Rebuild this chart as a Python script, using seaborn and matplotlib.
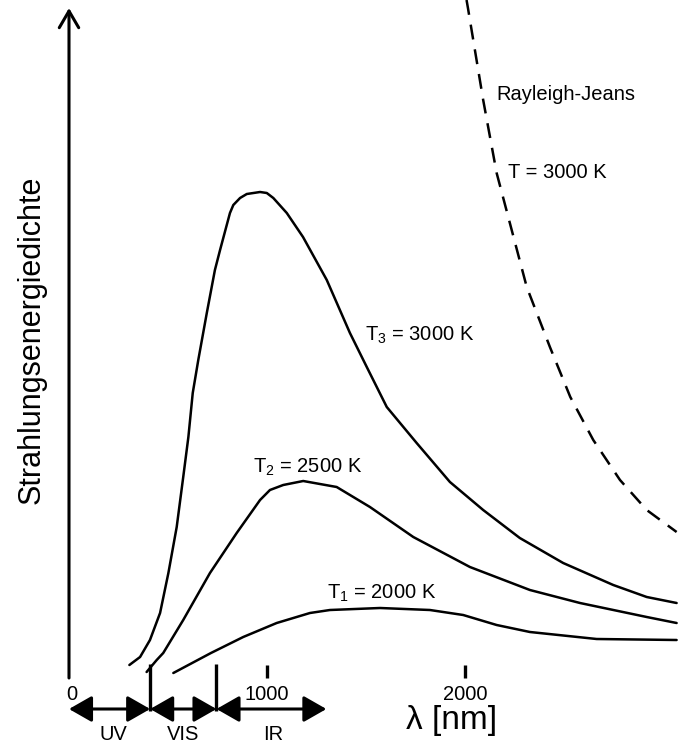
import matplotlib
matplotlib.use("Agg")
import matplotlib.pyplot as plt
import seaborn as sns
import pandas as pd

# Werte (x: Wellenlaenge in nm, y: willkuerliche Einheiten)
lam_t3 = [305, 359, 409, 460, 502, 544, 577, 603, 625, 653, 696, 737, 763, 813, 830,
          864, 898, 965, 999, 1032, 1100, 1182, 1302, 1419, 1504, 1605, 1756, 1924,
          2092, 2277, 2496, 2749, 2918, 3069]
rad_t3 = [13, 21, 38, 65, 105, 151, 201, 241, 285, 318, 365, 408, 428, 465, 473,
          480, 484, 486, 485, 480, 465, 441, 398, 345, 311, 271, 235, 196,
          168, 140, 115, 93, 81, 75]

lam_t2 = [392, 443, 476, 577, 712, 847, 965, 1015, 1082, 1183, 1352, 1520, 1739,
          2025, 2328, 2581, 2918, 3069]
rad_t2 = [6, 18, 25, 58, 105, 145, 178, 188, 193, 197, 191, 171, 141,
          111, 88, 75, 61, 55]

lam_t1 = [527, 717, 880, 1049, 1217, 1318, 1571, 1823, 1991, 2160, 2328, 2665, 3069]
rad_t1 = [5, 25, 41, 55, 65, 68, 70, 68, 63, 53, 46, 39, 38]

lam_rj = [2008, 2015, 2092, 2160, 2312, 2429, 2532, 2648, 2783, 2918, 3069]
rad_rj = [678, 670, 578, 505, 391, 331, 281, 238, 198, 168, 146]

curve_labels = ["T$\\mathregular{_3}$ = 3000 K", "T$\\mathregular{_2}$ = 2500 K",
                "T$\\mathregular{_1}$ = 2000 K"]
x_ticks = [0, 1000, 2000]
vis_range = [410, 745]
ir_end = 1300

sns.set_style("white")
plt.rcParams["font.family"] = ["Liberation Sans", "DejaVu Sans"]
plt.rcParams["text.color"] = "black"
plt.rcParams["mathtext.fontset"] = "custom"
plt.rcParams["mathtext.rm"] = "Liberation Sans"

fig = plt.figure(figsize=(6.78, 7.42), dpi=100)
ax = fig.add_axes([0, 0, 1, 1])
ax.set_xlim(-348.5, 3076)
ax.set_ylim(-64, 678)
ax.axis("off")

lw = 1.8
for xs, ys in [(lam_t3, rad_t3), (lam_t2, rad_t2), (lam_t1, rad_t1)]:
    sns.lineplot(x=xs, y=ys, color="black", lw=lw, estimator=None,
                 solid_joinstyle="round", ax=ax)
rj = pd.DataFrame({"lam": lam_rj, "rad": rad_rj})
sns.lineplot(data=rj, x="lam", y="rad", color="black", lw=lw, estimator=None,
             linestyle=(0, (6, 4)), ax=ax)

# Achsen mit Pfeilen
ax.annotate("", xy=(0, 670), xytext=(0, 0),
            arrowprops=dict(arrowstyle="->,head_length=0.6,head_width=0.35",
                            lw=2.2, color="black", shrinkA=0, shrinkB=0,
                            mutation_scale=20))
ax.annotate("", xy=(3090, 0), xytext=(-2, 0),
            arrowprops=dict(arrowstyle="->,head_length=0.6,head_width=0.35",
                            lw=2.2, color="black", shrinkA=0, shrinkB=0,
                            mutation_scale=20))

for t in x_ticks[1:]:
    ax.plot([t, t], [0, 13], color="black", lw=2.4, solid_capstyle="butt")
for t in x_ticks:
    ax.text(t + (12 if t == 0 else 0), -16, str(t), ha="center", va="center", fontsize=14.5)

for v in vis_range:
    ax.plot([v, v], [14, -33], color="black", lw=2.4, solid_capstyle="butt")

bounds = [0, vis_range[0], vis_range[1], ir_end]
for a, b in zip(bounds[:-1], bounds[1:]):
    ax.annotate("", xy=(b, -31), xytext=(a, -31),
                arrowprops=dict(arrowstyle="<|-|>,head_length=0.7,head_width=0.4",
                                lw=2.2, color="black", shrinkA=0, shrinkB=0,
                                mutation_scale=20))
ax.text(222, -56, "UV", ha="center", va="center", fontsize=14.5)
ax.text(576, -56, "VIS", ha="center", va="center", fontsize=14.5)
ax.text(1030, -56, "IR", ha="center", va="center", fontsize=14.5)

ax.text(1934, -42, "λ [nm]", ha="center", va="center", fontsize=24)
ax.text(-187, 338, "Strahlungsenergiedichte", ha="center", va="center",
        rotation=90, fontsize=22)

ax.text(1495, 343, curve_labels[0], ha="left", va="center", fontsize=14.5)
ax.text(931, 211, curve_labels[1], ha="left", va="center", fontsize=14.5)
ax.text(1301, 85, curve_labels[2], ha="left", va="center", fontsize=14.5)
ax.text(2160, 583, "Rayleigh-Jeans", ha="left", va="center", fontsize=14.5)
ax.text(2219, 506, "T = 3000 K", ha="left", va="center", fontsize=14.5)

fig.savefig("out.png", dpi=100)
